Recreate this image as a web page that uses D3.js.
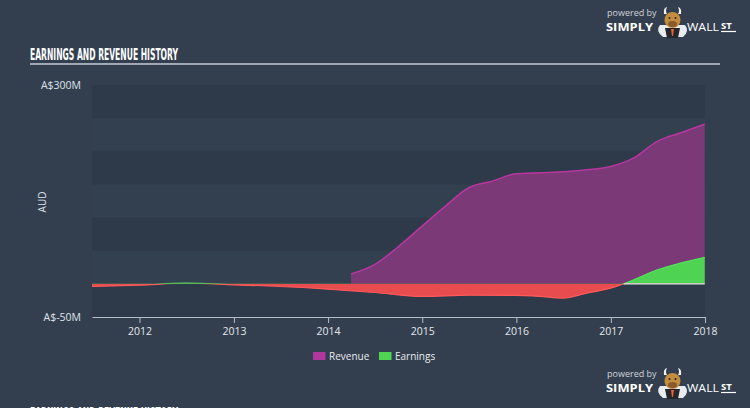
<!DOCTYPE html>
<html><head><meta charset="utf-8">
<script src="https://cdn.jsdelivr.net/npm/d3@7/dist/d3.min.js"></script>
<style>
html,body{margin:0;padding:0;background:#333f4f;}
svg{display:block;}
</style></head>
<body>
<svg id="c" width="750" height="408"></svg>
<script>
// ---- data ----
const revenueDates = ["2014-03-31","2014-06-30","2014-09-30","2014-12-31","2015-03-31","2015-06-30","2015-09-30","2015-12-31","2016-06-30","2016-09-30","2016-12-31","2017-03-31","2017-06-30","2017-09-30","2017-12-31"];
const revenueValues = [15,29,56,87,117,145,155,166,169,172,177,190,215,228,241];
const earningsDates = ["2011-06-30","2011-12-31","2012-06-30","2012-12-31","2013-06-30","2013-12-31","2014-06-30","2014-12-31","2015-06-30","2015-12-31","2016-03-31","2016-06-30","2016-09-30","2016-12-31","2017-02-20","2017-06-30","2017-12-31"];
const earningsValues = [-4,-2,1,-1.5,-4,-8,-13,-19,-17,-17.5,-19,-21.5,-14,-6.5,0,21,40];
const yTickValues = [300,-50];
const yTickLabels = ["A$300M","A$-50M"];
const xTickYears = [2012,2013,2014,2015,2016,2017,2018];
const legendLabels = ["Revenue","Earnings"];

const parse = d3.timeParse("%Y-%m-%d");
const revenue = revenueDates.map((d,i)=>({date:parse(d),v:revenueValues[i]}));
const earnings = earningsDates.map((d,i)=>({date:parse(d),v:earningsValues[i]}));

const svg = d3.select("#c");
const L=92,R=705,T=85,B=317;

const x = d3.scaleTime().domain([new Date(2011,6,1), new Date(2018,0,1)]).range([L,R]);
const y = d3.scaleLinear().domain([-50,300]).range([B,T]);

// background bands
const bands = d3.range(-50,300,50);
svg.append("g").selectAll("rect").data(bands).join("rect")
  .attr("x",L).attr("width",R-L)
  .attr("y",d=>y(d+50)).attr("height",d=>y(d)-y(d+50))
  .attr("fill",d=>((d+50)/50)%2===0?"#2e3a49":"#334050");

// title
const titleFont = "'Liberation Sans Narrow','DejaVu Sans Condensed','Roboto',sans-serif";
svg.append("text").attr("x",30).attr("y",59.5)
  .attr("font-family",titleFont)
  .attr("font-weight","bold").attr("font-size",16).attr("fill","#ffffff")
  .attr("textLength",148).attr("lengthAdjust","spacingAndGlyphs")
  .text("EARNINGS AND REVENUE HISTORY");
svg.append("line").attr("x1",30).attr("x2",720).attr("y1",64).attr("y2",64)
  .attr("stroke","#c9ced6").attr("stroke-width",1.3);

// bottom cut-off title
svg.append("text").attr("x",30).attr("y",419)
  .attr("font-family",titleFont)
  .attr("font-weight","bold").attr("font-size",16).attr("fill","#ffffff")
  .attr("textLength",148).attr("lengthAdjust","spacingAndGlyphs")
  .text("EARNINGS AND REVENUE HISTORY");

// revenue area
const curve = d3.curveMonotoneX;
const revArea = d3.area().x(d=>x(d.date)).y0(y(0)).y1(d=>y(d.v)).curve(curve);
const revLine = d3.line().x(d=>x(d.date)).y(d=>y(d.v)).curve(curve);
svg.append("path").datum(revenue).attr("d",revArea).attr("fill","#7b3977");
svg.append("path").datum(revenue).attr("d",revLine).attr("fill","none")
  .attr("stroke","#b7379f").attr("stroke-width",1.5);

// earnings area split by sign
const defs = svg.append("defs");
defs.append("clipPath").attr("id","pos").append("rect")
  .attr("x",L).attr("y",T-5).attr("width",R-L).attr("height",y(0)-T+5);
defs.append("clipPath").attr("id","neg").append("rect")
  .attr("x",L).attr("y",y(0)).attr("width",R-L).attr("height",B-y(0));
const eArea = d3.area().x(d=>x(d.date)).y0(y(0)).y1(d=>y(d.v)).curve(curve);
const eLine = d3.line().x(d=>x(d.date)).y(d=>y(d.v)).curve(curve);
svg.append("path").datum(earnings).attr("d",eArea).attr("fill","#4fd353").attr("clip-path","url(#pos)");
svg.append("path").datum(earnings).attr("d",eArea).attr("fill","#e84c4f").attr("clip-path","url(#neg)");
svg.append("path").datum(earnings).attr("d",eLine).attr("fill","none")
  .attr("stroke","#ff5a5a").attr("stroke-width",1.2).attr("clip-path","url(#neg)");
svg.append("path").datum(earnings).attr("d",eLine).attr("fill","none")
  .attr("stroke","#55e05a").attr("stroke-width",1.2).attr("clip-path","url(#pos)");
// zero line where earnings positive
let crossDate = null;
for(let i=1;i<earnings.length;i++){
  const a=earnings[i-1],b=earnings[i];
  if(a.v<0 && b.v>=0){const f=(0-a.v)/(b.v-a.v);crossDate=new Date(+a.date+f*(b.date-a.date));}
}
if(crossDate){
  svg.append("line").attr("x1",x(crossDate)).attr("x2",x(earnings[earnings.length-1].date))
   .attr("y1",y(0)).attr("y2",y(0)).attr("stroke","#e8e8e8").attr("stroke-width",1.2);
}

// x axis
const xAxis = d3.axisBottom(x)
  .tickValues(xTickYears.map(yr=>new Date(yr,0,1)))
  .tickFormat(d3.timeFormat("%Y")).tickSize(6).tickSizeOuter(0);
const gx = svg.append("g").attr("transform",`translate(0,${B})`).call(xAxis);
gx.select(".domain").attr("stroke","#b7bec8").attr("stroke-width",1.2);
gx.selectAll(".tick line").attr("stroke","#b7bec8");
gx.selectAll(".tick text").attr("fill","#e4e7eb").attr("font-size",10.5)
  .attr("font-family","'Open Sans',sans-serif").attr("dy","0.9em");

// y labels
svg.append("g").selectAll("text").data(yTickValues).join("text")
  .attr("x",81).attr("y",d=>y(d)+4).attr("text-anchor","end")
  .attr("fill","#dfe3e8").attr("font-size",10.5).attr("font-family","'Open Sans',sans-serif")
  .text((d,i)=>yTickLabels[i]);
svg.append("text").attr("transform","translate(46,202) rotate(-90)")
  .attr("text-anchor","middle").attr("fill","#dfe3e8").attr("font-size",10)
  .attr("font-family","'Open Sans',sans-serif").text("AUD");

// legend
const legColors=["#b0379e","#4fd353"];
const legX=[313,379];
const lg = svg.append("g");
legendLabels.forEach((l,i)=>{
  lg.append("rect").attr("x",legX[i]).attr("y",352).attr("width",12.5).attr("height",8).attr("fill",legColors[i]);
  lg.append("text").attr("x",legX[i]+16).attr("y",360).attr("fill","#e8eaee")
    .attr("font-size",10).attr("font-family","'Open Sans',sans-serif").text(l);
});

// logo
function logo(oy){
  const g = svg.append("g").attr("transform",`translate(0,${oy})`);
  g.append("text").attr("x",607).attr("y",16).attr("fill","#d0d4da").attr("font-size",9)
    .attr("font-family","'Open Sans',sans-serif").text("powered by");
  g.append("text").attr("x",606).attr("y",31).attr("fill","#ffffff").attr("font-size",11)
    .attr("font-weight","bold").attr("font-family","'Open Sans',sans-serif")
    .attr("textLength",47).attr("lengthAdjust","spacingAndGlyphs").text("SIMPLY");
  g.append("text").attr("x",687).attr("y",31).attr("fill","#ffffff").attr("font-size",11)
    .attr("font-family","'Open Sans',sans-serif")
    .attr("textLength",32).attr("lengthAdjust","spacingAndGlyphs").text("WALL");
  g.append("text").attr("x",721).attr("y",29).attr("fill","#ffffff").attr("font-size",9.5)
    .attr("font-weight","bold").attr("font-family","'Open Sans',sans-serif").text("ST");
  g.append("line").attr("x1",721).attr("x2",736).attr("y1",31.5).attr("y2",31.5).attr("stroke","#fff").attr("stroke-width",1.2);
  // bull
  g.append("path").attr("d","M660,25 Q655,31 663,37 L683,37 Q690,31 685,25 Z").attr("fill","#e9ecef");
  g.append("path").attr("d","M665,28 L680,28 L678,38 L667,38 Z").attr("fill","#23272d");
  g.append("path").attr("d","M671,29 L674,29 L673,36 L672,36 Z").attr("fill","#e8632c");
  g.append("path").attr("d","M664,14 Q663,8 667,7 Q665,11 667,14 Z").attr("fill","#f0f0f0");
  g.append("path").attr("d","M681,14 Q682,8 678,7 Q680,11 678,14 Z").attr("fill","#f0f0f0");
  g.append("ellipse").attr("cx",672.5).attr("cy",20).attr("rx",8).attr("ry",8).attr("fill","#c58c3e");
  g.append("ellipse").attr("cx",672.5).attr("cy",24).attr("rx",4.5).attr("ry",3).attr("fill","#8a5a2a");
  g.append("circle").attr("cx",669.5).attr("cy",18).attr("r",1).attr("fill","#222");
  g.append("circle").attr("cx",675.5).attr("cy",18).attr("r",1).attr("fill","#222");
}
logo(0);
logo(361);
</script>
</body></html>
